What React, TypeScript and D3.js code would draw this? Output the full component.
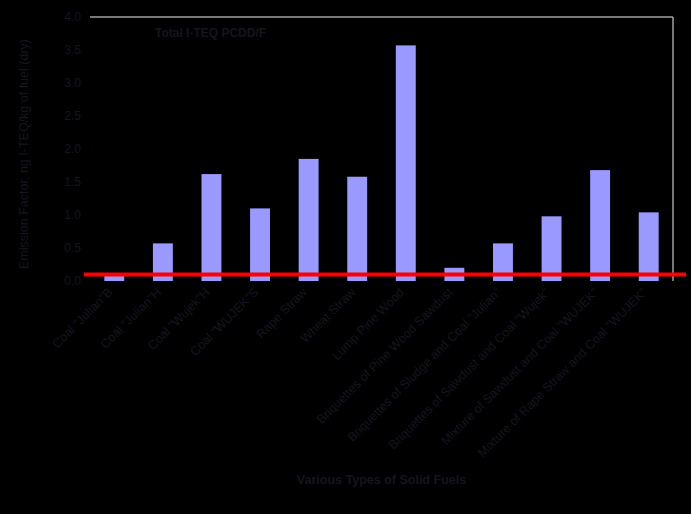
import * as d3 from 'd3';

const categories = [
  'Coal "Julian"B',
  'Coal "Julian"H',
  'Coal "Wujek"H',
  'Coal "WUJEK"S',
  'Rape Straw',
  'Wheat Straw',
  'Lump Pine Wood',
  'Briquettes of Pine Wood Sawdust',
  'Briquettes of Sludge and Coal "Julian"',
  'Briquettes of Sawdust and Coal "Wujek"',
  'Mixture of Sawdust and Coal "WUJEK"',
  'Mixture of Rape Straw and Coal "WUJEK"',
];
const values = [0.1, 0.57, 1.62, 1.1, 1.85, 1.58, 3.57, 0.2, 0.57, 0.98, 1.68, 1.04];
const yTicks = [0, 0.5, 1, 1.5, 2, 2.5, 3, 3.5, 4];
const limitValue = 0.1;

const W = 691;
const H = 514;
const left = 90, right = 673, top = 17, bottom = 281;
const textColor = '#17141f';

export default function App() {
  const x = d3.scaleBand().domain(categories).range([left, right]).paddingInner(0.59).paddingOuter(0.295);
  const y = d3.scaleLinear().domain([0, 4]).range([bottom, top]);

  return (
    <svg width={W} height={H} style={{ position: 'absolute', left: 0, top: 0, background: '#000' }}
      fontFamily="'Liberation Sans', Arial, sans-serif">
      <rect x={0} y={0} width={W} height={H} fill="#000" />
      {/* plot border, top and right */}
      <line x1={left} x2={right} y1={top} y2={top} stroke="#a0a0a0" strokeWidth={1.5} />
      <line x1={right} x2={right} y1={top} y2={bottom} stroke="#a0a0a0" strokeWidth={1.5} />

      {categories.map((c, i) => (
        <rect key={c} x={x(c)} y={y(values[i])} width={x.bandwidth()} height={y(0) - y(values[i])} fill="#9999ff" />
      ))}

      <line x1={84} x2={686} y1={y(limitValue)} y2={y(limitValue)} stroke="#ff0000" strokeWidth={4} />

      {yTicks.map(t => (
        <text key={t} x={81} y={y(t) + 4} textAnchor="end" fontSize={12} fill={textColor}>{t.toFixed(1)}</text>
      ))}

      {categories.map(c => {
        const cx = (x(c) as number) + x.bandwidth() / 2 - 1;
        return (
          <text key={c} transform={`translate(${cx},${293}) rotate(-45)`} textAnchor="end" fontSize={12.5} fill={textColor}>{c}</text>
        );
      })}

      <text x={155} y={37} fontSize={12} fontWeight="bold" fill={textColor}>Total I-TEQ PCDD/F</text>
      <text x={(left + right) / 2} y={484} textAnchor="middle" fontSize={12.5} fontWeight="bold" fill={textColor}>Various Types of Solid Fuels</text>
      <text transform={`translate(28,${(top + bottom) / 2 + 5}) rotate(-90)`} textAnchor="middle" fontSize={12.5} fill={textColor}>Emission Factor, ng I-TEQ/kg of fuel (dry)</text>
    </svg>
  );
}
